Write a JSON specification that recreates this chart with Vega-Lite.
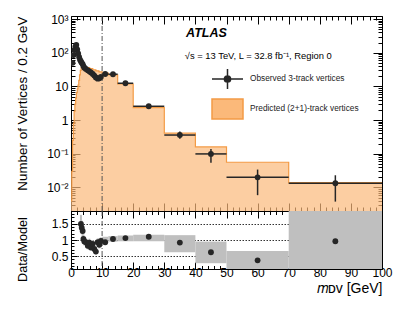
{
  "$schema": "https://vega.github.io/schema/vega-lite/v6.json",
  "padding": {"left": 14, "top": 12, "right": 3, "bottom": 0},
  "autosize": {"type": "pad"},
  "bounds": "flush",
  "spacing": 0,
  "config": {
    "view": {"stroke": "#000", "strokeWidth": 1},
    "font": "Liberation Sans",
    "axis": {"labelFont": "Liberation Sans", "titleFont": "Liberation Sans", "labelColor": "#000", "titleColor": "#000", "tickColor": "#000", "domain": false, "titleFontWeight": "normal"}
  },
  "datasets": {
    "pred": [
      {"m": 0, "v": 0.004}, {"m": 0.25, "v": 0.03}, {"m": 0.5, "v": 0.25}, {"m": 0.75, "v": 0.8},
      {"m": 1.0, "v": 1.8}, {"m": 1.25, "v": 3.0}, {"m": 1.5, "v": 4.5}, {"m": 1.75, "v": 6.5},
      {"m": 2.0, "v": 8.5}, {"m": 2.25, "v": 11}, {"m": 2.5, "v": 15}, {"m": 2.75, "v": 22},
      {"m": 3.0, "v": 30}, {"m": 3.25, "v": 36}, {"m": 3.5, "v": 38}, {"m": 4.0, "v": 37},
      {"m": 5.0, "v": 36}, {"m": 6.0, "v": 34}, {"m": 7.0, "v": 31}, {"m": 8.0, "v": 29},
      {"m": 9.0, "v": 27}, {"m": 10, "v": 24.7}, {"m": 12, "v": 22}, {"m": 15, "v": 11.8},
      {"m": 20, "v": 2.35}, {"m": 30, "v": 0.41}, {"m": 40, "v": 0.16}, {"m": 50, "v": 0.056},
      {"m": 70, "v": 0.0139}, {"m": 100, "v": 0.0139}
    ],
    "obs": [
      {"m": 0.5, "mlo": 0.4, "mhi": 0.6, "v": 50, "vlo": 44, "vhi": 56, "series": "Observed 3-track vertices"},
      {"m": 0.8, "mlo": 0.7, "mhi": 0.9, "v": 85, "vlo": 77, "vhi": 93, "series": "Observed 3-track vertices"},
      {"m": 1.1, "mlo": 1.0, "mhi": 1.2, "v": 120, "vlo": 110, "vhi": 130, "series": "Observed 3-track vertices"},
      {"m": 1.4, "mlo": 1.3, "mhi": 1.5, "v": 150, "vlo": 138, "vhi": 162, "series": "Observed 3-track vertices"},
      {"m": 1.7, "mlo": 1.6, "mhi": 1.8, "v": 170, "vlo": 157, "vhi": 183, "series": "Observed 3-track vertices"},
      {"m": 2.0, "mlo": 1.9, "mhi": 2.1, "v": 125, "vlo": 115, "vhi": 135, "series": "Observed 3-track vertices"},
      {"m": 2.3, "mlo": 2.2, "mhi": 2.4, "v": 95, "vlo": 86, "vhi": 104, "series": "Observed 3-track vertices"},
      {"m": 2.6, "mlo": 2.5, "mhi": 2.7, "v": 75, "vlo": 67, "vhi": 83, "series": "Observed 3-track vertices"},
      {"m": 2.9, "mlo": 2.8, "mhi": 3.0, "v": 62, "vlo": 55, "vhi": 69, "series": "Observed 3-track vertices"},
      {"m": 3.2, "mlo": 3.1, "mhi": 3.3, "v": 55, "vlo": 49, "vhi": 61, "series": "Observed 3-track vertices"},
      {"m": 3.45, "mlo": 3.35, "mhi": 3.55, "v": 50, "vlo": 44, "vhi": 56, "series": "Observed 3-track vertices"},
      {"m": 3.75, "mlo": 3.65, "mhi": 3.85, "v": 46, "vlo": 41, "vhi": 51, "series": "Observed 3-track vertices"},
      {"m": 4.0, "mlo": 3.9, "mhi": 4.1, "v": 40, "vlo": 35, "vhi": 45, "series": "Observed 3-track vertices"},
      {"m": 4.3, "mlo": 4.2, "mhi": 4.4, "v": 36, "vlo": 32, "vhi": 40, "series": "Observed 3-track vertices"},
      {"m": 4.8, "mlo": 4.7, "mhi": 4.9, "v": 33, "vlo": 29, "vhi": 37, "series": "Observed 3-track vertices"},
      {"m": 5.4, "mlo": 5.3, "mhi": 5.5, "v": 30, "vlo": 26.5, "vhi": 33.5, "series": "Observed 3-track vertices"},
      {"m": 5.9, "mlo": 5.8, "mhi": 6.0, "v": 28, "vlo": 24.5, "vhi": 31.5, "series": "Observed 3-track vertices"},
      {"m": 6.4, "mlo": 6.3, "mhi": 6.5, "v": 26, "vlo": 23, "vhi": 29, "series": "Observed 3-track vertices"},
      {"m": 7.0, "mlo": 6.9, "mhi": 7.1, "v": 23.5, "vlo": 20.5, "vhi": 26.5, "series": "Observed 3-track vertices"},
      {"m": 7.5, "mlo": 7.4, "mhi": 7.6, "v": 21, "vlo": 18.5, "vhi": 23.5, "series": "Observed 3-track vertices"},
      {"m": 8.0, "mlo": 7.9, "mhi": 8.1, "v": 18.5, "vlo": 16, "vhi": 21, "series": "Observed 3-track vertices"},
      {"m": 8.6, "mlo": 8.5, "mhi": 8.7, "v": 17, "vlo": 15, "vhi": 19, "series": "Observed 3-track vertices"},
      {"m": 9.1, "mlo": 9.0, "mhi": 9.2, "v": 17.5, "vlo": 15.5, "vhi": 19.5, "series": "Observed 3-track vertices"},
      {"m": 9.6, "mlo": 9.5, "mhi": 9.7, "v": 19, "vlo": 17, "vhi": 21, "series": "Observed 3-track vertices"},
      {"m": 11, "mlo": 10, "mhi": 12, "v": 23.3, "vlo": 21.3, "vhi": 25.3, "series": "Observed 3-track vertices"},
      {"m": 13.5, "mlo": 12, "mhi": 15, "v": 23, "vlo": 21.4, "vhi": 24.6, "series": "Observed 3-track vertices"},
      {"m": 17.5, "mlo": 15, "mhi": 20, "v": 12.4, "vlo": 11.5, "vhi": 13.3, "series": "Observed 3-track vertices"},
      {"m": 25, "mlo": 20, "mhi": 30, "v": 2.57, "vlo": 2.3, "vhi": 2.85, "series": "Observed 3-track vertices"},
      {"m": 35, "mlo": 30, "mhi": 40, "v": 0.36, "vlo": 0.28, "vhi": 0.46, "series": "Observed 3-track vertices"},
      {"m": 45, "mlo": 40, "mhi": 50, "v": 0.099, "vlo": 0.054, "vhi": 0.139, "series": "Observed 3-track vertices"},
      {"m": 60, "mlo": 50, "mhi": 70, "v": 0.02, "vlo": 0.0059, "vhi": 0.034, "series": "Observed 3-track vertices"},
      {"m": 85, "mlo": 70, "mhi": 100, "v": 0.0133, "vlo": 0.0038, "vhi": 0.023, "series": "Observed 3-track vertices"}
    ],
    "ratioerr": [
      {"m": 3.2, "r": 1.5, "rlo": 1.25, "rhi": 1.78},
      {"m": 3.45, "r": 1.38, "rlo": 1.18, "rhi": 1.6},
      {"m": 3.75, "r": 1.28, "rlo": 1.1, "rhi": 1.45},
      {"m": 4.0, "r": 1.03, "rlo": 0.9, "rhi": 1.17},
      {"m": 4.3, "r": 0.95, "rlo": 0.83, "rhi": 1.08},
      {"m": 4.8, "r": 0.93, "rlo": 0.82, "rhi": 1.05},
      {"m": 5.4, "r": 0.82, "rlo": 0.71, "rhi": 0.94},
      {"m": 5.9, "r": 0.92, "rlo": 0.8, "rhi": 1.04},
      {"m": 6.4, "r": 0.77, "rlo": 0.66, "rhi": 0.88},
      {"m": 7.0, "r": 0.88, "rlo": 0.76, "rhi": 1.0},
      {"m": 7.5, "r": 0.72, "rlo": 0.62, "rhi": 0.83},
      {"m": 8.0, "r": 0.64, "rlo": 0.55, "rhi": 0.74},
      {"m": 8.6, "r": 0.93, "rlo": 0.8, "rhi": 1.05},
      {"m": 9.1, "r": 0.85, "rlo": 0.74, "rhi": 0.96},
      {"m": 9.6, "r": 0.97, "rlo": 0.85, "rhi": 1.08}
    ],
    "ratio": [
      {"m": 3.2, "r": 1.5}, {"m": 3.45, "r": 1.38}, {"m": 3.75, "r": 1.28}, {"m": 4.0, "r": 1.03},
      {"m": 4.3, "r": 0.95}, {"m": 4.8, "r": 0.93}, {"m": 5.4, "r": 0.82}, {"m": 5.9, "r": 0.92},
      {"m": 6.4, "r": 0.77}, {"m": 7.0, "r": 0.88}, {"m": 7.5, "r": 0.72}, {"m": 8.0, "r": 0.64},
      {"m": 8.6, "r": 0.93}, {"m": 9.1, "r": 0.85}, {"m": 9.6, "r": 0.97},
      {"m": 11, "r": 0.93}, {"m": 13.5, "r": 1.03}, {"m": 17.5, "r": 1.06}, {"m": 25, "r": 1.1},
      {"m": 35, "r": 0.92}, {"m": 45, "r": 0.62}, {"m": 60, "r": 0.37}, {"m": 85, "r": 0.96}
    ],
    "bands": [
      {"lo": 10, "hi": 12, "rlo": 0.92, "rhi": 1.1},
      {"lo": 12, "hi": 15, "rlo": 0.95, "rhi": 1.12},
      {"lo": 15, "hi": 20, "rlo": 0.96, "rhi": 1.14},
      {"lo": 20, "hi": 30, "rlo": 0.96, "rhi": 1.16},
      {"lo": 30, "hi": 40, "rlo": 0.62, "rhi": 1.15},
      {"lo": 40, "hi": 50, "rlo": 0.28, "rhi": 0.95},
      {"lo": 50, "hi": 70, "rlo": 0.1, "rhi": 0.66},
      {"lo": 70, "hi": 100, "rlo": 0.1, "rhi": 1.9}
    ],
    "cut": [{"m": 10}],
    "labels": [
      {"label": "ATLAS", "kind": "atlas"},
      {"label": "√s = 13 TeV, L = 32.8 fb⁻¹, Region 0", "kind": "info"}
    ]
  },
  "vconcat": [
    {
      "width": 311,
      "height": 195,
      "resolve": {"axis": {"x": "independent", "y": "independent"}},
      "layer": [
        {
          "data": {"name": "pred"},
          "mark": {"type": "area", "interpolate": "step-after", "color": "#fbb97a", "clip": true, "line": {"color": "#f39b45", "strokeWidth": 1.2}},
          "encoding": {
            "x": {"field": "m", "type": "quantitative", "scale": {"domain": [0, 100], "nice": false, "zero": false},
              "axis": {"orient": "bottom", "labels": false, "title": null, "grid": false,
                "values": [0,2,4,6,8,10,12,14,16,18,20,22,24,26,28,30,32,34,36,38,40,42,44,46,48,50,52,54,56,58,60,62,64,66,68,70,72,74,76,78,80,82,84,86,88,90,92,94,96,98,100],
                "tickSize": {"condition": {"test": "datum.value % 10 === 0", "value": -8}, "value": -4}}},
            "y": {"field": "v", "type": "quantitative", "scale": {"type": "log", "domain": [0.002, 1230], "nice": false},
              "axis": {"orient": "left", "grid": false,
                "values": [0.002,0.003,0.004,0.005,0.006,0.007,0.008,0.009,0.01,0.02,0.03,0.04,0.05,0.06,0.07,0.08,0.09,0.1,0.2,0.3,0.4,0.5,0.6,0.7,0.8,0.9,1,2,3,4,5,6,7,8,9,10,20,30,40,50,60,70,80,90,100,200,300,400,500,600,700,800,900,1000],
                "labelExpr": "datum.value === 1000 ? '10³' : datum.value === 100 ? '10²' : datum.value === 10 ? '10' : datum.value === 1 ? '1' : datum.value === 0.1 ? '10⁻¹' : datum.value === 0.01 ? '10⁻²' : ''",
                "labelFontSize": 12, "labelPadding": 12, "minExtent": 40, "maxExtent": 40,
                "tickSize": {"condition": {"test": "indexof([0.01,0.1,1,10,100,1000], datum.value) >= 0", "value": -9}, "value": -4},
                "title": "Number of Vertices / 0.2 GeV", "titleFontSize": 13.4, "titleAnchor": "end", "titlePadding": 2}},
            "y2": {"datum": 0.002}
          }
        },
        {
          "data": {"name": "obs"},
          "mark": {"type": "rule", "color": "#262626", "strokeWidth": 1.5, "clip": true},
          "encoding": {
            "x": {"field": "mlo", "type": "quantitative", "scale": {"domain": [0, 100], "nice": false, "zero": false},
              "axis": {"orient": "top", "labels": false, "title": null, "grid": false,
                "values": [0,2,4,6,8,10,12,14,16,18,20,22,24,26,28,30,32,34,36,38,40,42,44,46,48,50,52,54,56,58,60,62,64,66,68,70,72,74,76,78,80,82,84,86,88,90,92,94,96,98,100],
                "tickSize": {"condition": {"test": "datum.value % 10 === 0", "value": -8}, "value": -4}}},
            "x2": {"field": "mhi"},
            "y": {"field": "v", "type": "quantitative", "scale": {"type": "log", "domain": [0.002, 1230], "nice": false},
              "axis": {"orient": "right", "labels": false, "title": null, "grid": false,
                "values": [0.002,0.003,0.004,0.005,0.006,0.007,0.008,0.009,0.01,0.02,0.03,0.04,0.05,0.06,0.07,0.08,0.09,0.1,0.2,0.3,0.4,0.5,0.6,0.7,0.8,0.9,1,2,3,4,5,6,7,8,9,10,20,30,40,50,60,70,80,90,100,200,300,400,500,600,700,800,900,1000],
                "tickSize": {"condition": {"test": "indexof([0.01,0.1,1,10,100,1000], datum.value) >= 0", "value": -9}, "value": -4}}}
          }
        },
        {
          "data": {"name": "obs"},
          "mark": {"type": "rule", "color": "#262626", "strokeWidth": 1.5, "clip": true},
          "encoding": {
            "x": {"field": "m", "type": "quantitative", "scale": {"domain": [0, 100], "nice": false, "zero": false}, "axis": null},
            "y": {"field": "vlo", "type": "quantitative", "scale": {"type": "log", "domain": [0.002, 1230], "nice": false}, "axis": null},
            "y2": {"field": "vhi"}
          }
        },
        {
          "data": {"name": "cut"},
          "mark": {"type": "rule", "color": "#555555", "strokeWidth": 1, "strokeDash": [5, 2, 1, 2]},
          "encoding": {"x": {"field": "m", "type": "quantitative", "scale": {"domain": [0, 100], "nice": false, "zero": false}, "axis": null}}
        },
        {
          "data": {"name": "obs"},
          "mark": {"type": "point", "filled": true, "size": 34, "opacity": 1, "clip": true},
          "encoding": {
            "x": {"field": "m", "type": "quantitative", "scale": {"domain": [0, 100], "nice": false, "zero": false}, "axis": null},
            "y": {"field": "v", "type": "quantitative", "scale": {"type": "log", "domain": [0.002, 1230], "nice": false}, "axis": null},
            "color": {"field": "series", "type": "nominal",
              "scale": {"domain": ["Observed 3-track vertices", "Predicted (2+1)-track vertices"], "range": ["#262626", "#fbb97a"]},
              "legend": {"orient": "none", "legendX": 140, "legendY": 46.5, "title": null, "padding": 0,
                "symbolSize": 961, "labelFont": "Liberation Sans", "labelFontSize": 8.3, "labelColor": "#222",
                "labelOffset": 6, "rowPadding": -2, "symbolStrokeWidth": 1.5, "symbolOpacity": 1,
                "encode": {"symbols": {"update": {
                  "shape": {"signal": "datum.value === 'Observed 3-track vertices' ? 'M-1,0L1,0M0,-0.65L0,0.65M0.2,0A0.2,0.2,0,1,1,-0.2,0A0.2,0.2,0,1,1,0.2,0Z' : 'M-1,-0.645L1,-0.645L1,0.645L-1,0.645Z'"},
                  "fill": {"signal": "datum.value === 'Observed 3-track vertices' ? '#262626' : '#fbb97a'"},
                  "stroke": {"signal": "datum.value === 'Observed 3-track vertices' ? '#262626' : '#f39b45'"},
                  "strokeWidth": {"value": 1.5},
                  "opacity": {"value": 1}
                }}}}
            }
          }
        },
        {
          "data": {"name": "labels"},
          "transform": [{"filter": "datum.kind === 'atlas'"}],
          "mark": {"type": "text", "font": "Liberation Sans", "fontSize": 12.5, "fontWeight": "bold", "fontStyle": "italic", "align": "left", "baseline": "middle", "color": "#000"},
          "encoding": {
            "text": {"field": "label"},
            "x": {"datum": 37.0, "scale": {"domain": [0, 100], "nice": false, "zero": false}, "axis": null},
            "y": {"datum": 385, "scale": {"type": "log", "domain": [0.002, 1230], "nice": false}, "axis": null}
          }
        },
        {
          "data": {"name": "labels"},
          "transform": [{"filter": "datum.kind === 'info'"}],
          "mark": {"type": "text", "font": "Liberation Sans", "fontSize": 9.4, "align": "left", "baseline": "middle", "color": "#000"},
          "encoding": {
            "text": {"field": "label"},
            "x": {"datum": 36.6, "scale": {"domain": [0, 100], "nice": false, "zero": false}, "axis": null},
            "y": {"datum": 80, "scale": {"type": "log", "domain": [0.002, 1230], "nice": false}, "axis": null}
          }
        }
      ]
    },
    {
      "width": 311,
      "height": 58,
      "resolve": {"axis": {"x": "independent", "y": "independent"}},
      "layer": [
        {
          "data": {"name": "bands"},
          "mark": {"type": "rect", "color": "#bfbfbf", "clip": true},
          "encoding": {
            "x": {"field": "lo", "type": "quantitative", "scale": {"domain": [0, 100], "nice": false, "zero": false},
              "axis": {"orient": "bottom", "grid": false,
                "values": [0,2,4,6,8,10,12,14,16,18,20,22,24,26,28,30,32,34,36,38,40,42,44,46,48,50,52,54,56,58,60,62,64,66,68,70,72,74,76,78,80,82,84,86,88,90,92,94,96,98,100],
                "labelExpr": "datum.value % 10 === 0 ? datum.label : ''",
                "labelFontSize": 12, "labelPadding": 5, "labelFlush": false,
                "tickSize": {"condition": {"test": "datum.value % 10 === 0", "value": -7}, "value": -3.5},
                "title": "𝑚ᴅᴠ [GeV]", "titleFontSize": 14, "titleAnchor": "end", "titlePadding": 3}},
            "x2": {"field": "hi"},
            "y": {"field": "rlo", "type": "quantitative", "scale": {"domain": [0.1, 1.9], "nice": false, "zero": false},
              "axis": {"orient": "left",
                "values": [0.1,0.2,0.3,0.4,0.5,0.6,0.7,0.8,0.9,1,1.1,1.2,1.3,1.4,1.5,1.6,1.7,1.8,1.9],
                "labelExpr": "datum.value === 0.5 ? '0.5' : datum.value === 1 ? '1' : datum.value === 1.5 ? '1.5' : ''",
                "labelFontSize": 12, "labelPadding": 9, "minExtent": 40, "maxExtent": 40,
                "grid": true, "gridColor": "#333", "gridDash": [1.5, 1.5], "gridWidth": 1,
                "gridOpacity": {"condition": {"test": "datum.value === 0.5 || datum.value === 1 || datum.value === 1.5", "value": 1}, "value": 0},
                "tickSize": {"condition": {"test": "datum.value === 0.5 || datum.value === 1 || datum.value === 1.5", "value": -6}, "value": -3},
                "title": "Data/Model", "titleFontSize": 12.7, "titleY": 38, "titlePadding": 2}},
            "y2": {"field": "rhi"}
          }
        },
        {
          "data": {"name": "ratioerr"},
          "mark": {"type": "rule", "color": "#bdbdbd", "strokeWidth": 2, "clip": true},
          "encoding": {
            "x": {"field": "m", "type": "quantitative", "scale": {"domain": [0, 100], "nice": false, "zero": false},
              "axis": {"orient": "top", "labels": false, "title": null, "grid": false,
                "values": [0,2,4,6,8,10,12,14,16,18,20,22,24,26,28,30,32,34,36,38,40,42,44,46,48,50,52,54,56,58,60,62,64,66,68,70,72,74,76,78,80,82,84,86,88,90,92,94,96,98,100],
                "tickSize": {"condition": {"test": "datum.value % 10 === 0", "value": -7}, "value": -3.5}}},
            "y": {"field": "rlo", "type": "quantitative", "scale": {"domain": [0.1, 1.9], "nice": false, "zero": false},
              "axis": {"orient": "right", "labels": false, "title": null, "grid": false,
                "values": [0.1,0.2,0.3,0.4,0.5,0.6,0.7,0.8,0.9,1,1.1,1.2,1.3,1.4,1.5,1.6,1.7,1.8,1.9],
                "tickSize": {"condition": {"test": "datum.value === 0.5 || datum.value === 1 || datum.value === 1.5", "value": -6}, "value": -3}}},
            "y2": {"field": "rhi"}
          }
        },
        {
          "data": {"name": "cut"},
          "mark": {"type": "rule", "color": "#555555", "strokeWidth": 1, "strokeDash": [5, 2, 1, 2]},
          "encoding": {"x": {"field": "m", "type": "quantitative", "scale": {"domain": [0, 100], "nice": false, "zero": false}, "axis": null}}
        },
        {
          "data": {"name": "ratio"},
          "mark": {"type": "point", "filled": true, "size": 34, "opacity": 1, "color": "#262626", "clip": true},
          "encoding": {
            "x": {"field": "m", "type": "quantitative", "scale": {"domain": [0, 100], "nice": false, "zero": false}, "axis": null},
            "y": {"field": "r", "type": "quantitative", "scale": {"domain": [0.1, 1.9], "nice": false, "zero": false}, "axis": null}
          }
        }
      ]
    }
  ]
}
